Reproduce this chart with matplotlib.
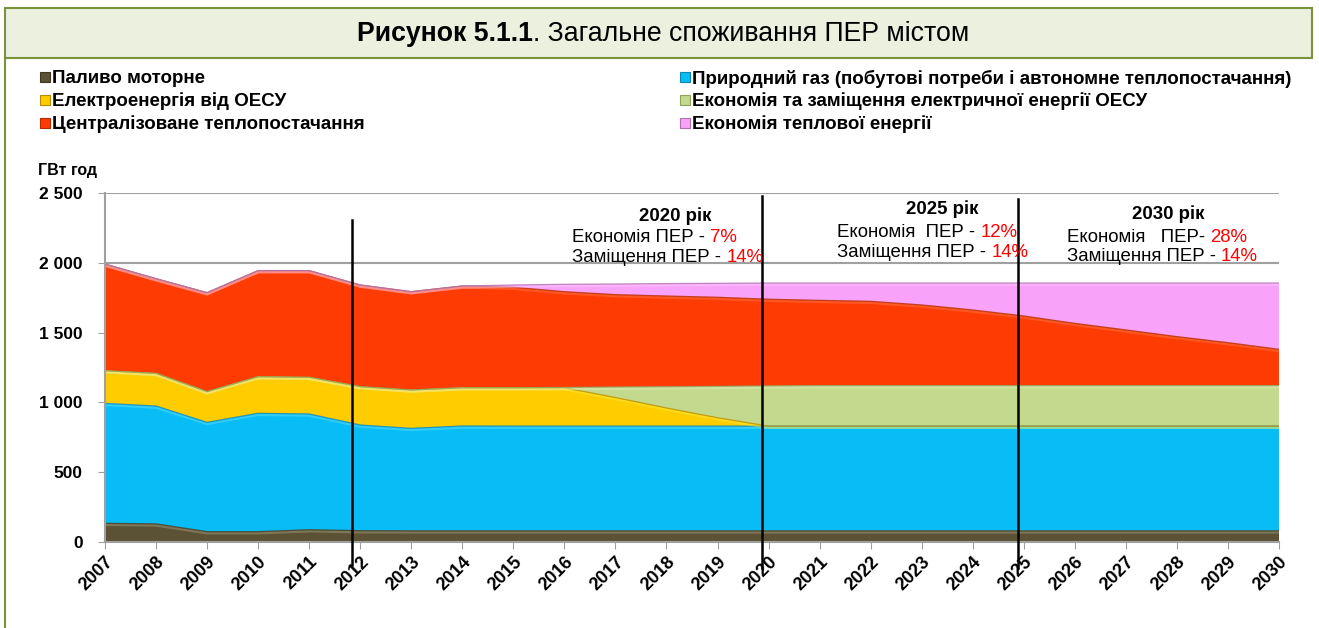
import matplotlib
matplotlib.use("Agg")
import matplotlib.pyplot as plt
from matplotlib.patches import Rectangle
from matplotlib.lines import Line2D
import numpy as np

plt.rcParams['font.family'] = ['Liberation Sans', 'DejaVu Sans']

# ---------------- data ----------------
years = [str(y) for y in range(2007, 2031)]

fuel = [134, 130, 74, 74, 88, 81, 80, 80, 80, 80, 80, 80,
        80, 80, 80, 80, 80, 80, 80, 80, 80, 80, 80, 80]
gas = [859, 844, 783, 848, 829, 757, 734, 751, 750, 750, 750, 750,
       750, 750, 750, 750, 750, 750, 750, 750, 750, 750, 750, 750]
electricity = [234, 234, 220, 262, 263, 275, 275, 274, 275, 275, 205, 130,
               60, 0, 0, 0, 0, 0, 0, 0, 0, 0, 0, 0]
econ_electricity = [0, 0, 0, 0, 0, 0, 0, 0, 0, 2, 75, 152,
                    225, 288, 290, 290, 290, 290, 290, 290, 290, 290, 290, 290]
district_heat = [764, 678, 709, 760, 764, 728, 704, 729, 720, 686, 662, 650,
                 638, 621, 611, 604, 578, 542, 499, 446, 399, 351, 308, 260]
econ_heat = [0, 0, 0, 0, 0, 0, 0, 0, 16, 53, 76, 89,
             100, 116, 124, 131, 157, 193, 236, 289, 336, 384, 427, 475]

series_labels = [
    "Паливо моторне",
    "Природний газ (побутові потреби і автономне теплопостачання)",
    "Електроенергія від ОЕСУ",
    "Економія та заміщення електричної енергії ОЕСУ",
    "Централізоване теплопостачання",
    "Економія теплової енергії",
]
yticks = [0, 500, 1000, 1500, 2000, 2500]
ytick_labels = ["0", "500", "1 000", "1 500", "2 000", "2 500"]
y_unit = "ГВт год"
title_bold = "Рисунок 5.1.1"
title_rest = ". Загальне споживання ПЕР містом"

notes = [
    # (year label, economy text, economy %, replacement text, replacement %)
    ("2020 рік", "Економія ПЕР - ", "7%", "Заміщення ПЕР - ", "14%"),
    ("2025 рік", "Економія  ПЕР - ", "12%", "Заміщення ПЕР - ", "14%"),
    ("2030 рік", "Економія   ПЕР- ", "28%", "Заміщення ПЕР - ", "14%"),
]

# ---------------- style ----------------
fills = ["#5B5236", "#08BCF6", "#FFCC00", "#C3D98E", "#FF3B04", "#F9A2F9"]
highlights = ["#A8A27E", "#5FE3FF", "#FFEC3A", "#E2F0BE", "#FF7A4A", "#FFD0FF"]
edges = ["#3E3822", "#0A86B3", "#B88A00", "#8FA25A", "#B52A02", "#B070B0"]

W, H = 1319, 628
fig = plt.figure(figsize=(W / 100, H / 100), dpi=100)


def fx(px):
    return px / W


def fy(py):
    return 1 - py / H


# frame: title band + left line
fig.patches.append(Rectangle((fx(5), fy(58)), fx(1312) - fx(5), fy(8) - fy(58),
                             transform=fig.transFigure, facecolor="#EBF1DE",
                             edgecolor="#77933C", linewidth=1.5, zorder=0))
fig.lines.append(Line2D([fx(5), fx(5)], [fy(58), 0], transform=fig.transFigure,
                        color="#77933C", linewidth=1.5))

t1 = fig.text(fx(357), fy(34), title_bold, fontsize=19.2, fontweight="bold",
              ha="left", va="center")
fig.canvas.draw()
bb = t1.get_window_extent()
fig.text(bb.x1 / W, fy(34), title_rest, fontsize=19.2, ha="left", va="center")

# axes
ax = fig.add_axes([fx(105), fy(542), fx(1279) - fx(105), fy(193) - fy(542)])
x = np.arange(len(years))
data = [fuel, gas, electricity, econ_electricity, district_heat, econ_heat]
base = np.zeros(len(years))
for i, s in enumerate(data):
    top = base + np.array(s, dtype=float)
    ax.fill_between(x, base, top, facecolor=fills[i], edgecolor="none",
                    linewidth=0, zorder=2)
    ax.plot(x, top - 9, color=highlights[i], lw=2.2, alpha=0.45, zorder=3,
            solid_capstyle="butt")
    ax.plot(x, top, color=edges[i], lw=0.9, alpha=0.8, zorder=3)
    base = top

ax.set_xlim(0, len(years) - 1)
ax.set_ylim(0, 2500)
ax.set_yticks(yticks)
ax.set_yticklabels(ytick_labels, fontsize=12.5, fontweight="bold")
ax.set_xticks(x)
ax.set_xticklabels(years, fontsize=13, fontweight="bold", rotation=45,
                   ha="right", va="top", rotation_mode="anchor")
ax.tick_params(axis="y", length=5, color="#A0A0A0", pad=11)
ax.tick_params(axis="x", length=5, color="#A0A0A0", pad=3)
for sp in ["top", "right"]:
    ax.spines[sp].set_visible(False)
for sp in ["left", "bottom"]:
    ax.spines[sp].set_color("#A0A0A0")
    ax.spines[sp].set_linewidth(1.5)
    ax.spines[sp].set_zorder(4)
ax.yaxis.grid(True, color="#A0A0A0", linewidth=1.5, zorder=0)
ax.set_axisbelow(True)

# vertical divider lines (drawn shapes)
for xi, y0, y1 in [(4.84, -165, 2307), (12.87, -186, 2479), (17.89, -186, 2457)]:
    ax.plot([xi, xi], [y0, y1], color="black", lw=1.8, clip_on=False, zorder=6)

fig.text(fx(38), fy(171), y_unit, fontsize=11.5, fontweight="bold",
         ha="left", va="center")

# legend (manual, two columns)
leg_pos = [(40, 77), (680, 77), (40, 100), (680, 100), (40, 123), (680, 123)]
for i, (lx, ly) in enumerate(leg_pos):
    fig.patches.append(Rectangle((fx(lx), fy(ly + 5)), fx(10), 10 / H,
                                 transform=fig.transFigure, facecolor=fills[i],
                                 edgecolor=edges[i], linewidth=0.8))
    fig.text(fx(lx + 12), fy(ly + 1.5), series_labels[i], fontsize=13.5,
             fontweight="bold", ha="left", va="center")

# annotations
note_pos = [  # (title centre x, title baseline, text left x, line1 baseline, line2 baseline)
    (675, 220.5, 572, 242.5, 262),
    (942, 214.5, 837, 236.5, 257),
    (1168, 219, 1067, 241.5, 261),
]
fs = 13.4
for (yl, e_txt, e_pct, z_txt, z_pct), (cx, tb, lx, b1, b2) in zip(notes, note_pos):
    fig.text(fx(cx), fy(tb), yl, fontsize=fs, fontweight="bold",
             ha="center", va="baseline")
    for txt, pct, bl in [(e_txt, e_pct, b1), (z_txt, z_pct, b2)]:
        t = fig.text(fx(lx), fy(bl), txt, fontsize=fs, ha="left", va="baseline",
                     zorder=7)
        fig.canvas.draw()
        e = t.get_window_extent()
        fig.text(e.x1 / W, fy(bl), pct, fontsize=fs, color="#FF0000",
                 ha="left", va="baseline", zorder=7)

fig.savefig("out.png", dpi=100)
